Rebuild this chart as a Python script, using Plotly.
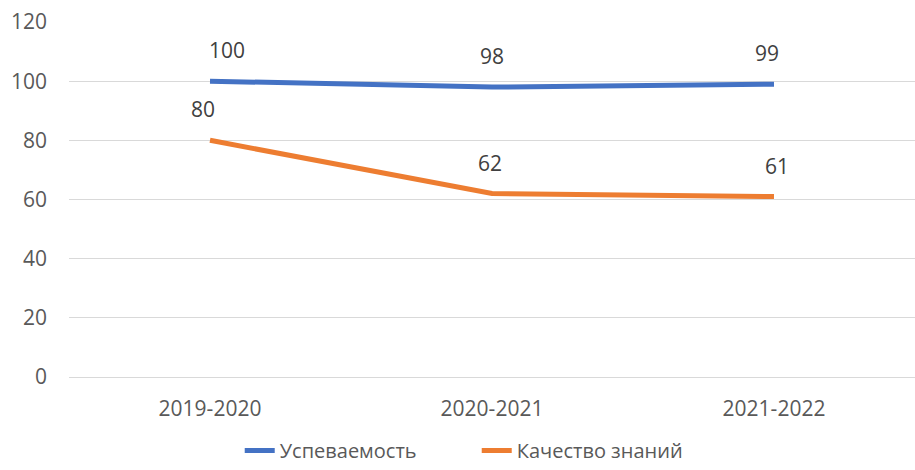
import plotly.graph_objects as go

categories = ["2019-2020", "2020-2021", "2021-2022"]
uspevaemost = [100, 98, 99]
kachestvo = [80, 62, 61]
series_names = ["Успеваемость", "Качество знаний"]
colors = ["#4472C4", "#ED7D31"]

# label horizontal nudges (style only)
label_xshift = [[17, 0, -7], [-7, -2, 3]]

FONT = "Open Sans"
TXT = "#595959"

fig = go.Figure()
for i, (name, vals, col) in enumerate(zip(series_names, [uspevaemost, kachestvo], colors)):
    fig.add_trace(go.Scatter(
        x=categories, y=vals, mode="lines", name=name,
        line=dict(color=col, width=5),
    ))
    for j, (c, v) in enumerate(zip(categories, vals)):
        fig.add_annotation(x=c, y=v, text=str(v), showarrow=False,
                           yshift=31, xshift=label_xshift[i][j],
                           font=dict(family=FONT, size=21, color="#404040"))

fig.update_layout(
    width=915, height=470,
    margin=dict(l=69, r=0, t=22, b=93, autoexpand=False),
    paper_bgcolor="white", plot_bgcolor="white",
    font=dict(family=FONT, size=21, color=TXT),
    showlegend=True,
    legend=dict(orientation="h", xref="container", yref="container",
                x=0.262, xanchor="left", y=0.0, yanchor="bottom",
                font=dict(family=FONT, size=20, color=TXT), entrywidth=192,
                entrywidthmode="pixels", traceorder="normal"),
)
fig.update_xaxes(type="category", range=[-0.5, 2.5], showgrid=False, showline=False,
                 zeroline=False, ticks="", ticklabelstandoff=17,
                 tickfont=dict(family=FONT, size=21, color=TXT))
fig.update_yaxes(range=[0, 120], dtick=20, showgrid=True, gridcolor="#D9D9D9", gridwidth=1,
                 zeroline=True, zerolinecolor="#D9D9D9", zerolinewidth=1, showline=False,
                 ticks="", ticklabelstandoff=21,
                 tickfont=dict(family=FONT, size=21, color=TXT))

fig.write_html("out.html", config={"displayModeBar": False},
               post_script="document.body.style.margin='0';")
